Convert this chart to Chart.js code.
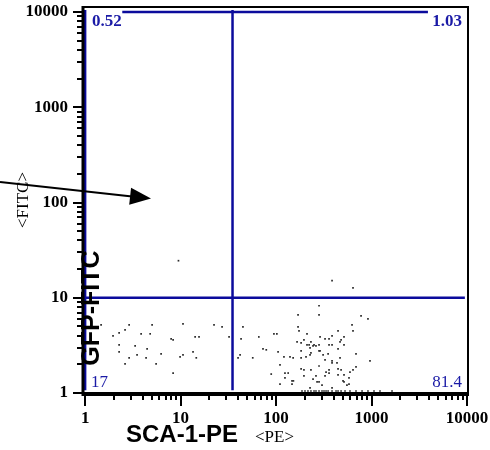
<!DOCTYPE html>
<html>
<head>
<meta charset="utf-8">
<script src="https://cdn.jsdelivr.net/npm/chart.js@4.4.1/dist/chart.umd.min.js"></script>
<style>
  html, body { margin: 0; padding: 0; background: #fff; }
  #wrap { width: 490px; height: 450px; position: relative; }
</style>
</head>
<body>
<div id="wrap"><canvas id="dotplot"></canvas></div>
<script>
// events as [PE, FITC]
const lowLeftEvents = [
    [1.47,5.2],[1.96,3.98],[2.27,4.28],[2.62,4.6],[2.89,5.2],[2.27,3.2],[2.27,2.7],[2.62,2.02],
    [2.89,2.34],[3.34,3.12],[3.5,2.51],[3.86,4.18],[4.35,2.34],[4.46,2.9],[4.8,4.18],[5.03,5.2],
    [5.54,2.02],[6.25,2.57],[7.96,3.7],[8.35,3.61],[8.35,1.62],[9.88,2.39],[10.6,2.51],[10.6,5.32],
    [13.5,2.7],[14.2,3.88],[14.6,2.34],[15.6,3.88],[22.4,5.2],[27.2,4.95],[32.2,3.88]
];
const highEvents = [[9.5,24.5],[386,15.1],[640,12.7]];
const lowRightEvents = [
    [40,2.34],[42,2.51],[43,3.7],[45,4.95],[57,2.34],[66,3.88],[73,2.9],[79,2.84],[89,1.58],
    [95,4.18],[102,4.18],[105,2.7],[110,1.97],[110,1.24],[121,2.39],[124,1.62],[134,1.62],
    [124,1.44],[140,2.39],[151,2.34],[147,1.34],[152,1.34],[147,1.24],[166,3.44],[170,6.62],
    [170,4.95],[174,4.49],[183,3.36],[183,2.77],[183,2.34],[183,1.79],[196,3.61],[196,1.75],
    [196,1.51],[206,2.39],[211,4.18],[211,3.2],[222,3.2],[227,2.98],[227,2.51],[227,1.13],
    [232,3.44],[232,2.64],[232,1.75],[244,3.12],[244,1.4],[250,3.2],[262,3.12],[262,1.51],
    [269,1.31],[282,8.24],[282,6.62],[282,3.2],[282,2.77],[282,1.92],[282,1.31],[289,3.88],
    [289,2.77],[303,1.21],[311,2.51],[326,3.7],[326,2.23],[326,1.51],[334,1.66],[351,2.57],
    [359,3.7],[359,3.2],[359,1.75],[359,1.62],[386,3.98],[386,3.2],[386,2.17],[386,2.07],
    [386,1.13],[435,2.07],[446,4.49],[446,2.9],[446,1.79],[446,1.55],[468,3.44],[468,2.34],
    [480,3.61],[480,1.75],[503,1.34],[515,3.88],[515,3.2],[515,1.55],[515,1.31],[553,1.21],
    [581,1.44],[581,1.24],[595,1.66],[625,5.2],[640,4.49],[640,1.75],[688,2.57],[688,1.88],
    [777,6.46],[918,6.01],[964,2.17]
];
// events piled on the floor of the FITC axis
const floorEvents = [
    [187,1.05],[201,1.05],[216,1.05],[232,1.05],[250,1.05],[262,1.05],[282,1.05],[303,1.05],
    [318,1.05],[334,1.05],[351,1.05],[386,1.05],[425,1.05],[446,1.05],[480,1.05],[528,1.05],
    [595,1.05],[688,1.05],[796,1.05],[918,1.05],[1062,1.05],[1227,1.05],[1640,1.05]
];

// quadrant gate
const quadX = 35;
const quadY = 10;
const gateX = [1, 9500];
const gateY = [1.07, 10500];
const gateTop = [2.45, 3900, 10000];   // x from, x to, y
const quadStats = ['0.52', '1.03', '17', '81.4'];

const decades = [1, 10, 100, 1000, 10000];
const minorSteps = [2, 3, 4, 5, 6, 7, 8, 9];
const tickValues = [];
decades.forEach(d => {
    tickValues.push(d);
    if (d < 10000) minorSteps.forEach(k => tickValues.push(d * k));
});

const blue = '#0b0b9c';
const toPts = arr => arr.map(p => ({x: p[0], y: p[1]}));
const seg = (a, b) => ({
    type: 'scatter', showLine: true, data: [a, b], borderColor: blue, borderWidth: 2.5,
    pointRadius: 0, fill: false, order: 1
});

const tickFont = {family: 'Liberation Serif', size: 17, weight: 'bold'};

const plotDecor = {
    id: 'plotDecor',
    afterDraw(chart) {
        const {ctx, chartArea: a, scales: {x, y}} = chart;
        ctx.save();
        ctx.strokeStyle = '#000';
        ctx.fillStyle = '#000';

        // tick marks
        ctx.lineWidth = 2;
        x.ticks.forEach(t => {
            const px = Math.round(x.getPixelForValue(t.value));
            const len = decades.includes(t.value) ? 13 : 7;
            ctx.beginPath(); ctx.moveTo(px, a.bottom); ctx.lineTo(px, a.bottom + len); ctx.stroke();
        });
        y.ticks.forEach(t => {
            const py = Math.round(y.getPixelForValue(t.value));
            const len = decades.includes(t.value) ? 10 : 6;
            ctx.beginPath(); ctx.moveTo(a.left, py); ctx.lineTo(a.left - len, py); ctx.stroke();
        });

        // frame
        ctx.lineWidth = 2;
        ctx.strokeRect(a.left, a.top, a.right - a.left, a.bottom - a.top);
        ctx.lineWidth = 3;
        ctx.beginPath(); ctx.moveTo(a.left - 1, a.bottom + 1.5); ctx.lineTo(a.right + 1, a.bottom + 1.5); ctx.stroke();
        ctx.beginPath(); ctx.moveTo(a.left, a.top - 1); ctx.lineTo(a.left, a.bottom + 3); ctx.stroke();

        // quadrant percentages
        ctx.fillStyle = '#1a1aa6';
        ctx.textBaseline = 'alphabetic';
        ctx.font = 'bold 17px "Liberation Serif"';
        ctx.textAlign = 'left';  ctx.fillText(quadStats[0], a.left + 9, a.top + 19);
        ctx.textAlign = 'right'; ctx.fillText(quadStats[1], a.right - 6, a.top + 19);
        ctx.font = '17px "Liberation Serif"';
        ctx.textAlign = 'left';  ctx.fillText(quadStats[2], a.left + 8, a.bottom - 6);
        ctx.textAlign = 'right'; ctx.fillText(quadStats[3], a.right - 6, a.bottom - 6);

        // axis titles
        ctx.fillStyle = '#000';
        ctx.textAlign = 'left';
        ctx.font = 'bold 24px "Liberation Sans"';
        ctx.fillText('SCA-1-PE', 126, 442);
        ctx.font = '17px "Liberation Serif"';
        ctx.fillText('<PE>', 255, 442);

        ctx.save();
        ctx.translate(28, 200);
        ctx.rotate(-Math.PI / 2);
        ctx.textAlign = 'center';
        ctx.font = '17px "Liberation Serif"';
        ctx.fillText('<FITC>', 0, 0);
        ctx.restore();

        ctx.save();
        ctx.translate(99, 308);
        ctx.rotate(-Math.PI / 2);
        ctx.textAlign = 'center';
        ctx.font = 'bold 25px "Liberation Sans"';
        ctx.fillText('GFP-FITC', 0, 0);
        ctx.restore();

        // pointer arrow
        const tail = [0, 182], tip = [151, 198.5];
        const dx = tip[0] - tail[0], dy = tip[1] - tail[1];
        const len = Math.hypot(dx, dy), ux = dx / len, uy = dy / len;
        const bx = tip[0] - ux * 21, by = tip[1] - uy * 21;
        ctx.lineWidth = 2;
        ctx.beginPath(); ctx.moveTo(tail[0], tail[1]); ctx.lineTo(bx + ux * 2, by + uy * 2); ctx.stroke();
        ctx.beginPath();
        ctx.moveTo(tip[0], tip[1]);
        ctx.lineTo(bx - uy * 8.5, by + ux * 8.5);
        ctx.lineTo(bx + uy * 8.5, by - ux * 8.5);
        ctx.closePath();
        ctx.fill();
        ctx.restore();
    }
};

const ctx = document.getElementById('dotplot').getContext('2d');
new Chart(ctx, {
    type: 'scatter',
    data: {
        datasets: [
            {
                data: toPts(lowLeftEvents.concat(highEvents, lowRightEvents, floorEvents)),
                pointStyle: 'rect', pointRadius: 1.2, borderWidth: 0,
                backgroundColor: '#2a2a2a', order: 2
            },
            seg({x: gateX[0], y: gateY[0]}, {x: gateX[0], y: gateY[1]}),
            seg({x: quadX, y: gateY[0]}, {x: quadX, y: gateY[1]}),
            seg({x: gateX[0], y: quadY}, {x: gateX[1], y: quadY}),
            seg({x: gateTop[0], y: gateTop[2]}, {x: gateTop[1], y: gateTop[2]})
        ]
    },
    options: {
        responsive: true,
        maintainAspectRatio: false,
        animation: false,
        layout: {padding: {left: 0, top: 7, right: 22, bottom: 0}},
        plugins: {legend: {display: false}, tooltip: {enabled: false}},
        scales: {
            x: {
                type: 'logarithmic',
                min: 0.95,
                max: 10250,
                grid: {display: false, drawTicks: true, tickLength: 12},
                border: {display: false},
                afterBuildTicks: s => { s.ticks = tickValues.map(v => ({value: v})); },
                afterFit: s => { s.height = 57; s.paddingLeft = 0; s.paddingRight = 0; },
                ticks: {
                    autoSkip: false, maxRotation: 0, minRotation: 0, padding: 3,
                    color: '#000', font: tickFont,
                    callback: v => decades.includes(v) ? String(v) : ''
                }
            },
            y: {
                type: 'logarithmic',
                min: 1,
                max: 11300,
                grid: {display: false, drawTicks: true, tickLength: 10},
                border: {display: false},
                afterBuildTicks: s => { s.ticks = tickValues.map(v => ({value: v})); },
                afterFit: s => { s.width = 83; s.paddingTop = 0; s.paddingBottom = 0; },
                ticks: {
                    autoSkip: false, padding: 5,
                    color: '#000', font: tickFont,
                    callback: v => decades.includes(v) ? String(v) : ''
                }
            }
        }
    },
    plugins: [plotDecor]
});
</script>
</body>
</html>
